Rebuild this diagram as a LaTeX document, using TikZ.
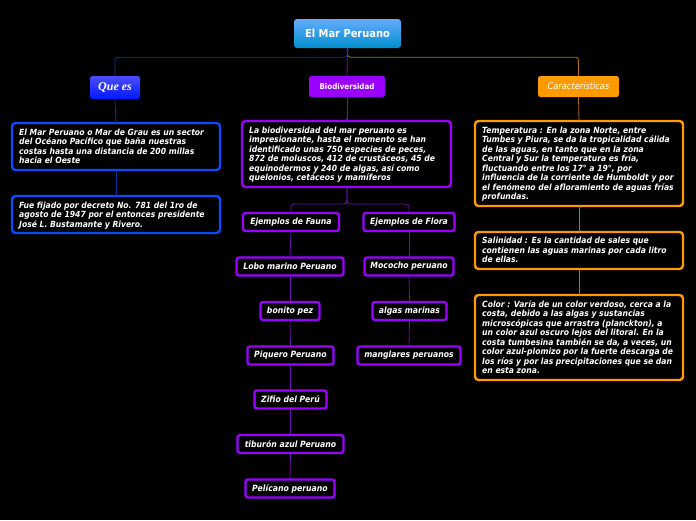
\documentclass[tikz,border=0pt]{standalone}
\usepackage{fontspec}
\setmainfont{DejaVu Sans}[FakeStretch=0.9]
\newfontfamily\serifbi{Liberation Serif}
\usetikzlibrary{arrows.meta}
\definecolor{bluebord}{HTML}{0A4BFF}
\definecolor{purpbord}{HTML}{9A00FF}
\definecolor{orgbord}{HTML}{FF9A00}
\definecolor{bluecon}{HTML}{0B3399}
\definecolor{purpcon}{HTML}{6A10B0}
\definecolor{orgcon}{HTML}{B07020}
\tikzset{
  txt/.style={font=\fontsize{8.5}{9.5}\selectfont\bfseries\itshape, text=white, align=left, anchor=north west, inner sep=0pt},
  bigbox/.style={draw, line width=2.4pt, rounded corners=3.5pt, fill=black},
  smallbox/.style={draw=purpbord, line width=2.4pt, rounded corners=2.5pt, fill=black, text=white,
     font=\fontsize{8.6}{9}\selectfont\bfseries\itshape, inner sep=0pt, minimum height=18pt},
  con/.style={line width=0.8pt, rounded corners=3pt},
  tip/.style={-{Stealth[length=3pt,width=3pt]}}
}
\begin{document}
\begin{tikzpicture}[x=1pt,y=-1pt]
\fill[black] (0,0) rectangle (696,520);
\useasboundingbox (0,0) rectangle (696,520);

% root
\node[draw=none, rounded corners=3pt, top color=cyan!45!blue!60!white, bottom color=blue!30!cyan!80!black,
  minimum width=107pt, minimum height=29pt, inner sep=0pt, text=white,
  font=\fontsize{11}{12}\selectfont\bfseries] (root) at (347.5,33.5) {El Mar Peruano};

% level 1
\node[rounded corners=2.5pt, top color=blue!70!white, bottom color=blue!90!cyan, minimum width=50pt, minimum height=23pt,
  inner sep=0pt, text=white, font=\serifbi\fontsize{12}{13}\selectfont\bfseries\itshape] (quees) at (115,87.5) {Que es};
\node[rounded corners=2.5pt, fill=purpbord, minimum width=76pt, minimum height=21pt, inner sep=0pt, text=white,
  font=\fontsize{7.9}{9}\selectfont\bfseries] (bio) at (347,86.5) {Biodiversidad};
\node[rounded corners=2.5pt, fill=orgbord, minimum width=81pt, minimum height=21pt, inner sep=0pt, text=white,
  font=\fontsize{9.2}{10}\selectfont\itshape] (car) at (578.5,86.5) {Caracteristicas};

% blue boxes
\draw[bigbox, draw=bluebord] (12,123) rectangle (220,170);
\node[txt] (b1) at (19,128.5) {El Mar Peruano o Mar de Grau es un sector\\del Océano Pacífico que baña nuestras\\costas hasta una distancia de 200 millas\\hacia el Oeste};
\coordinate (b1n) at (116,123); \coordinate (b1s) at (116,170);
\draw[bigbox, draw=bluebord] (12,196) rectangle (220,233);
\node[txt] (b2) at (19,201.5) {Fue fijado por decreto No. 781 del 1ro de\\agosto de 1947 por el entonces presidente\\José L. Bustamante y Rivero.};
\coordinate (b2n) at (116,196);

% purple text box
\draw[bigbox, draw=purpbord] (242,121) rectangle (451,187);
\node[txt] (bt) at (249,126.5) {La biodiversidad del mar peruano es\\impresionante, hasta el momento se han\\identificado unas 750 especies de peces,\\872 de moluscos, 412 de crustáceos, 45 de\\equinodermos y 240 de algas, así como\\quelonios, cetáceos y mamíferos};
\coordinate (btn) at (347,121); \coordinate (bts) at (347,187);

% orange boxes
\draw[bigbox, draw=orgbord] (475,121) rectangle (683,206);
\node[txt] (t1) at (482,126.5) {Temperatura : En la zona Norte, entre\\Tumbes y Piura, se da la tropicalidad cálida\\de las aguas, en tanto que en la zona\\Central y Sur la temperatura es fría,\\fluctuando entre los 17° a 19°, por\\influencia de la corriente de Humboldt y por\\el fenómeno del afloramiento de aguas frías\\profundas.};
\coordinate (t1n) at (579,121); \coordinate (t1s) at (579,206);
\draw[bigbox, draw=orgbord] (475,232) rectangle (683,269);
\node[txt] (t2) at (482,237) {Salinidad : Es la cantidad de sales que\\contienen las aguas marinas por cada litro\\de ellas.};
\coordinate (t2n) at (579,232); \coordinate (t2s) at (579,269);
\draw[bigbox, draw=orgbord] (475,295) rectangle (683,380);
\node[txt] (t3) at (482,300) {Color : Varía de un color verdoso, cerca a la\\costa, debido a las algas y sustancias\\microscópicas que arrastra (planckton), a\\un color azul oscuro lejos del litoral. En la\\costa tumbesina también se da, a veces, un\\color azul-plomizo por la fuerte descarga de\\los ríos y por las precipitaciones que se dan\\en esta zona.};
\coordinate (t3n) at (579,295);

% purple small boxes
\node[smallbox, minimum width=96pt] (fauna) at (291,222) {Ejemplos de Fauna};
\node[smallbox, minimum width=91pt] (flora) at (409,222) {Ejemplos de Flora};
\node[smallbox, minimum width=107pt] (lobo) at (290,266.5) {Lobo marino Peruano};
\node[smallbox, minimum width=89pt] (moco) at (409,266.5) {Mococho peruano};
\node[smallbox, minimum width=59pt] (bonito) at (290,311) {bonito pez};
\node[smallbox, minimum width=74pt] (algas) at (409.5,311) {algas marinas};
\node[smallbox, minimum width=86pt] (piq) at (290.5,355.5) {Piquero Peruano};
\node[smallbox, minimum width=103pt] (mang) at (409,355.5) {manglares peruanos};
\node[smallbox, minimum width=72pt] (zifio) at (290.5,399.5) {Zifio del Perú};
\node[smallbox, minimum width=106pt] (tib) at (290.5,444) {tiburón azul Peruano};
\node[smallbox, minimum width=89pt] (peli) at (290,488.5) {Pelícano peruano};

% connectors
\draw[con, bluecon] (root.south) -- ++(0,9) -| (quees.north);
\draw[con, orgcon] (root.south) -- ++(0,9) -| (car.north);
\draw[con, purpcon, tip] (bio.north) -- (root.south);
\draw[con, purpcon, tip] (bio.south) -- (btn);
\draw[con, bluecon] (quees.south) -- (b1n);
\draw[con, bluecon] (b1s) -- (b2n);
\draw[con, orgcon] (car.south) -- (t1n);
\draw[con, orgcon] (t1s) -- (t2n);
\draw[con, orgcon] (t2s) -- (t3n);
\draw[con, purpcon] (bts) -- ++(0,17) -| (fauna.north);
\draw[con, purpcon] (bts) -- ++(0,17) -| (flora.north);
\draw[con, purpcon] (fauna.south) -- (lobo.north);
\draw[con, purpcon] (lobo.south) -- (bonito.north);
\draw[con, purpcon] (bonito.south) -- (piq.north);
\draw[con, purpcon] (piq.south) -- (zifio.north);
\draw[con, purpcon] (zifio.south) -- (tib.north);
\draw[con, purpcon] (tib.south) -- (peli.north);
\draw[con, purpcon] (flora.south) -- (moco.north);
\draw[con, purpcon] (moco.south) -- (algas.north);
\draw[con, purpcon] (algas.south) -- (mang.north);
\end{tikzpicture}
\end{document}
